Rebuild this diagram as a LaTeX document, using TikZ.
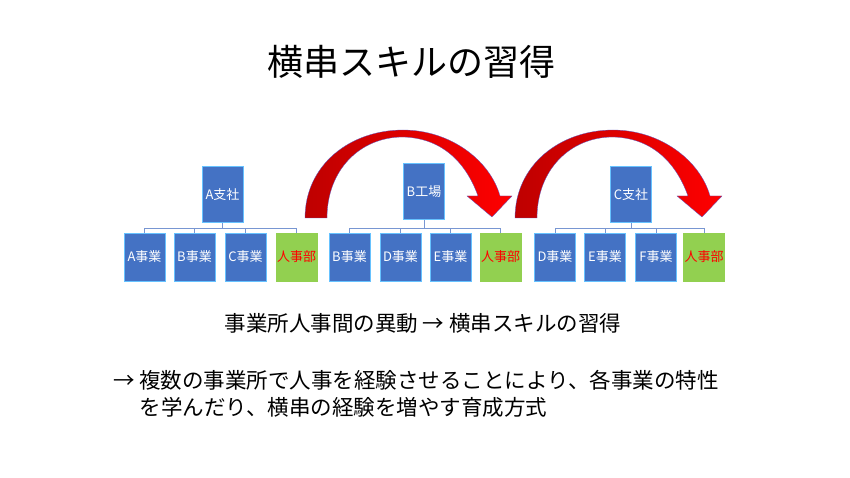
\documentclass[tikz,border=0pt]{standalone}
\usepackage{fontspec}
\setmainfont{Noto Sans CJK JP}
\begin{document}
\begin{tikzpicture}[x=1pt,y=-1pt,
  box/.style={draw=blue!40!cyan!60,line width=0.4pt,fill={rgb,255:red,68;green,114;blue,196},text=white,minimum width=41pt,inner sep=0pt,font=\fontsize{13}{15}\selectfont},
  par/.style={box,minimum height=56pt},
  ch/.style={box,minimum height=48pt},
  hr/.style={ch,fill={rgb,255:red,146;green,208;blue,80},draw={rgb,255:red,146;green,208;blue,80},text=red},
  conn/.style={draw={rgb,255:red,120;green,150;blue,210},line width=0.6pt},
  bigarrow/.style={left color={rgb,255:red,190;green,0;blue,0},right color=red,draw={rgb,255:red,90;green,90;blue,200},line width=0.3pt}]
\useasboundingbox (0,0) rectangle (850,478);
\node[font=\fontsize{36}{40}\selectfont] (title) at (411,62) {横串スキルの習得};
% arrows
\foreach \d in {0,210}{
\begin{scope}[xshift=\d]
\path[bigarrow] (305,218) .. controls (305,165) and (350,130) .. (403,130) .. controls (450,130) and (490,160) .. (500,196) -- (512,196) -- (492,217) -- (467,196) -- (478,196) .. controls (465,160) and (440,138) .. (403,137) .. controls (360,137) and (327,170) .. (327,218) -- cycle;
\end{scope}}
% group A
\node[par] (pA) at (222.5,194.5) {A支社};
\node[ch] (a1) at (144.5,257) {A事業};
\node[ch] (a2) at (194.5,257) {B事業};
\node[ch] (a3) at (245.5,257) {C事業};
\node[hr] (a4) at (296.5,257) {人事部};
% group B
\node[par] (pB) at (424,191.5) {B工場};
\node[ch] (b1) at (349.5,257) {B事業};
\node[ch] (b2) at (400.5,257) {D事業};
\node[ch] (b3) at (450.5,257) {E事業};
\node[hr] (b4) at (500.5,257) {人事部};
% group C
\node[par] (pC) at (631,194.5) {C支社};
\node[ch] (c1) at (555,257) {D事業};
\node[ch] (c2) at (605,257) {E事業};
\node[ch] (c3) at (656,257) {F事業};
\node[hr] (c4) at (704,257) {人事部};
\foreach \p/\a/\b/\c/\e in {pA/a1/a2/a3/a4,pB/b1/b2/b3/b4,pC/c1/c2/c3/c4}{
  \draw[conn] (\p.south) -- (\p.south |- 0,228);
  \draw[conn] (\a.north) -- (\a.north |- 0,228) -- (\e.north |- 0,228) -- (\e.north);
  \draw[conn] (\b.north) -- (\b.north |- 0,228);
  \draw[conn] (\c.north) -- (\c.north |- 0,228);
}
\node[font=\fontsize{21.5}{24}\selectfont] (sub) at (423,323) {事業所人事間の異動 → 横串スキルの習得};
\node[font=\fontsize{21.5}{27}\selectfont,anchor=north west,align=left,inner sep=0pt] (body) at (113,370) {→ 複数の事業所で人事を経験させることにより、各事業の特性\\\hphantom{→ }を学んだり、横串の経験を増やす育成方式};
\end{tikzpicture}
\end{document}
